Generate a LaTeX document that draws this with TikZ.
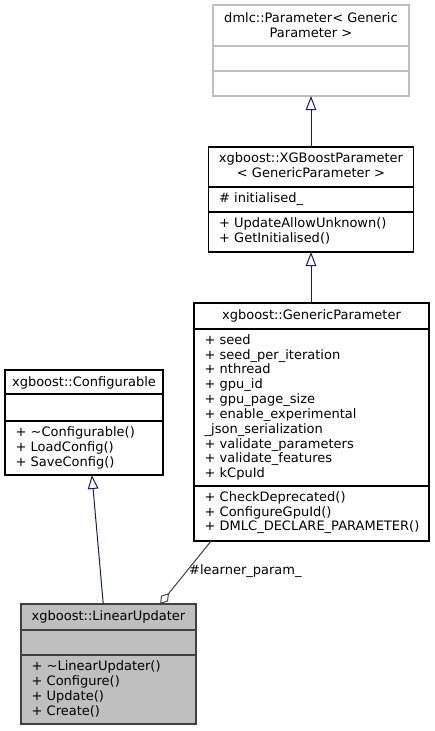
\documentclass[tikz,border=0pt]{standalone}
\usepackage{fontspec}
\setmainfont{DejaVu Sans}
\usepackage{xcolor}
\usetikzlibrary{arrows.meta,calc}
\definecolor{inhblue}{HTML}{191970}
\definecolor{aggrey}{HTML}{404040}
\definecolor{extgrey}{HTML}{BFBFBF}
\newcommand{\umlfont}{\fontsize{13}{14.82}\selectfont}
\tikzset{
  classbox/.style={rectangle,draw=black,fill=white,line width=1.1pt,inner sep=0pt,outer sep=0pt},
  extbox/.style={classbox,draw=extgrey},
  curbox/.style={classbox,draw=aggrey,fill=extgrey},
  compline/.style={line width=1.1pt,black},
  extline/.style={line width=1.1pt,extgrey},
  curline/.style={line width=1.1pt,aggrey},
  classtitle/.style={font=\umlfont,align=center,anchor=base,inner sep=0pt},
  classmembers/.style={font=\umlfont,align=left,anchor=base west,inner sep=0pt},
  inherit/.style={line width=1pt,inhblue,-{Triangle[open,fill=white,length=14pt,width=10.5pt]}},
  aggreg/.style={line width=1pt,aggrey,-{Diamond[open,fill=white,length=14pt,width=9pt]}},
  lab/.style={font=\umlfont,anchor=base west,inner sep=0pt}
}
\begin{document}
\begin{tikzpicture}[x=1pt,y=-1pt]
  \useasboundingbox (0,0) rectangle (434,731);

  % dmlc::Parameter (text nodes are placed at the baseline of their last line)
  \node[extbox,minimum width=196,minimum height=91] (param) at (311,50.5) {};
  \draw[extline] (param.west |- 0,46) -- (param.east |- 0,46);
  \draw[extline] (param.west |- 0,71) -- (param.east |- 0,71);
  \node[classtitle] (param-t) at (311,37.3) {dmlc::Parameter< Generic\\Parameter >};

  % xgboost::XGBoostParameter
  \node[classbox,minimum width=205,minimum height=105] (xgb) at (311,199.5) {};
  \draw[compline] (xgb.west |- 0,187) -- (xgb.east |- 0,187);
  \draw[compline] (xgb.west |- 0,212) -- (xgb.east |- 0,212);
  \node[classtitle] (xgb-t) at (311,177.5) {xgboost::XGBoostParameter\\< GenericParameter >};
  \node[classmembers] (xgb-a) at (219,202.5) {\# initialised\_};
  \node[classmembers] (xgb-m) at (219,242.3) {+ UpdateAllowUnknown()\\+ GetInitialised()};

  % xgboost::GenericParameter
  \node[classbox,minimum width=235,minimum height=238] (gen) at (311.5,422) {};
  \draw[compline] (gen.west |- 0,329) -- (gen.east |- 0,329);
  \draw[compline] (gen.west |- 0,486) -- (gen.east |- 0,486);
  \node[classtitle] (gen-t) at (311.5,319.5) {xgboost::GenericParameter};
  \node[classmembers] (gen-a) at (204.5,477.7) {+ seed\\+ seed\_per\_iteration\\+ nthread\\+ gpu\_id\\+ gpu\_page\_size\\+ enable\_experimental\\\_json\_serialization\\+ validate\_parameters\\+ validate\_features\\+ kCpuId};
  \node[classmembers] (gen-m) at (204.5,530.9) {+ CheckDeprecated()\\+ ConfigureGpuId()\\+ DMLC\_DECLARE\_PARAMETER()};

  % xgboost::Configurable
  \node[classbox,minimum width=158,minimum height=105] (cfg) at (84,422.5) {};
  \draw[compline] (cfg.west |- 0,394) -- (cfg.east |- 0,394);
  \draw[compline] (cfg.west |- 0,421) -- (cfg.east |- 0,421);
  \node[classtitle] (cfg-t) at (84,386) {xgboost::Configurable};
  \node[classmembers] (cfg-m) at (15.5,466.1) {+ \textasciitilde Configurable()\\+ LoadConfig()\\+ SaveConfig()};

  % xgboost::LinearUpdater
  \node[curbox,minimum width=175,minimum height=120] (lin) at (108.5,664) {};
  \draw[curline] (lin.west |- 0,630) -- (lin.east |- 0,630);
  \draw[curline] (lin.west |- 0,655) -- (lin.east |- 0,655);
  \node[classtitle] (lin-t) at (108.5,620) {xgboost::LinearUpdater};
  \node[classmembers] (lin-m) at (31.5,715) {+ \textasciitilde LinearUpdater()\\+ Configure()\\+ Update()\\+ Create()};

  % relations
  \draw[inherit] (xgb.north) -- (xgb.north |- param.south);
  \draw[inherit] (gen.north -| xgb.north) -- (xgb.south);
  \draw[inherit] ($(lin.north west)!0.47!(lin.north east)$) -- ($(cfg.south west)!0.55!(cfg.south east)$);
  \draw[aggreg] ($(gen.south west)!0.073!(gen.south east)$) -- ($(lin.north west)!0.795!(lin.north east)$);
  \node[lab] (agg-l) at (189,574.5) {\#learner\_param\_};
\end{tikzpicture}
\end{document}
